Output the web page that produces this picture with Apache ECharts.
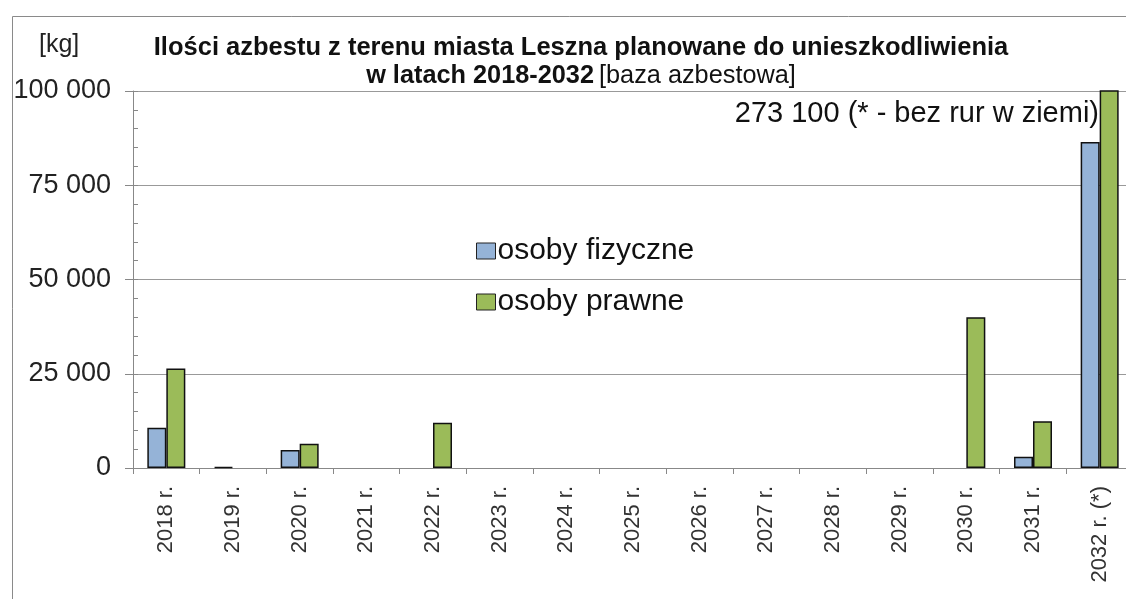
<!DOCTYPE html>
<html><head><meta charset="utf-8">
<script src="https://cdn.jsdelivr.net/npm/echarts@6/dist/echarts.min.js"></script>
<style>html,body{margin:0;padding:0;background:#fff}#c{width:1126px;height:599px}</style>
</head><body><div id="c"></div>
<script>
const categories = ['2018 r.','2019 r.','2020 r.','2021 r.','2022 r.','2023 r.','2024 r.','2025 r.','2026 r.','2027 r.','2028 r.','2029 r.','2030 r.','2031 r.','2032 r. (*)'];
const fizyczne = [10700, 300, 4800, null, null, null, null, null, null, null, null, null, null, 3000, 86500];
const prawne   = [26400, null, 6400, null, 12000, null, null, null, null, null, null, null, 40000, 12400, 273100];
const seriesNames = ['osoby fizyczne','osoby prawne'];
const titleLine1 = 'Ilości azbestu z terenu miasta Leszna planowane do unieszkodliwienia';
const titleLine2a = 'w latach 2018-2032';
const titleLine2b = '[baza azbestowa]';
const note = '273 100 (* - bez rur w ziemi)';
const unit = '[kg]';

const fmt = v => String(v).replace(/\B(?=(\d{3})+(?!\d))/g, ' ');
const sans = '"Liberation Sans", Arial, sans-serif';

const chart = echarts.init(document.getElementById('c'), null, {renderer:'canvas'});
chart.setOption({
  animation: false,
  backgroundColor: '#fff',
  title: {
    text: '{b|' + titleLine1 + '}\n{b2|' + titleLine2a + '} {n|' + titleLine2b + '}',
    left: 576, top: 28, textAlign: 'center',
    textStyle: {
      lineHeight: 29,
      rich: {
        b: {fontFamily: sans, fontWeight: 'bold', fontSize: 25.5, color: '#111', lineHeight: 29},
        b2: {fontFamily: sans, fontWeight: 'bold', fontSize: 25.3, color: '#111', lineHeight: 29},
        n: {fontFamily: sans, fontWeight: 'normal', fontSize: 25.3, color: '#111', lineHeight: 29}
      }
    }
  },
  graphic: [
    {type:'rect', left: 10, top: 14, shape:{width: 1130, height: 600}, style:{fill:'none', stroke:'#8a8a8a', lineWidth:1}, silent:true, z:-1},
    {type:'text', left: 39, top: 33, style:{text: unit, font: '25px ' + sans, fill:'#222'}},
    {type:'text', right: 27, top: 99, z: 100, style:{text: note, font: '29px ' + sans, fill:'#111'}}
  ],
  legend: {
    data: seriesNames,
    orient: 'vertical',
    left: 471, top: 231,
    itemWidth: 19, itemHeight: 16, itemGap: 21,
    icon: 'rect',
    textStyle: {fontFamily: sans, fontSize: 30, color: '#111', padding:[0,0,0,-3]},
    itemStyle: {borderColor:'#222', borderWidth:1}
  },
  grid: {left: 133, top: 91, width: 1000, bottom: 131, containLabel: false, outerBoundsMode: 'none'},
  xAxis: {
    type: 'category',
    data: categories,
    axisLine: {lineStyle:{color:'#888', width:1}},
    axisTick: {show:true, length:6, lineStyle:{color:'#888'}},
    axisLabel: {rotate: 90, fontSize: 22, fontFamily: sans, color:'#333', margin: 18, interval: 0}
  },
  yAxis: [{
    type: 'value', min: 0, max: 100000, interval: 25000,
    axisLine: {show:true, lineStyle:{color:'#888'}},
    axisTick: {show:true, length:8, lineStyle:{color:'#888'}},
    axisLabel: {fontSize: 27, fontFamily: sans, color:'#222', margin: 22, formatter: v => fmt(v)},
    splitLine: {show:true, lineStyle:{color:'#999', width:1}}
  },{
    type: 'value', min: 0, max: 100000, interval: 5000, position: 'left',
    axisLine: {show:false},
    axisTick: {show:true, inside:true, length:5, lineStyle:{color:'#888'}},
    axisLabel: {show:false},
    splitLine: {show:false}
  }],
  series: [
    {name: seriesNames[0], type:'bar', data: fizyczne, yAxisIndex:0, barGap:'0%', barCategoryGap:'43%',
     itemStyle:{color:'#95B3D7', borderColor:'#111', borderWidth:1.5}},
    {name: seriesNames[1], type:'bar', data: prawne, yAxisIndex:0, barGap:'0%', barCategoryGap:'43%',
     itemStyle:{color:'#9BBB59', borderColor:'#111', borderWidth:1.5}}
  ]
});
</script></body></html>
